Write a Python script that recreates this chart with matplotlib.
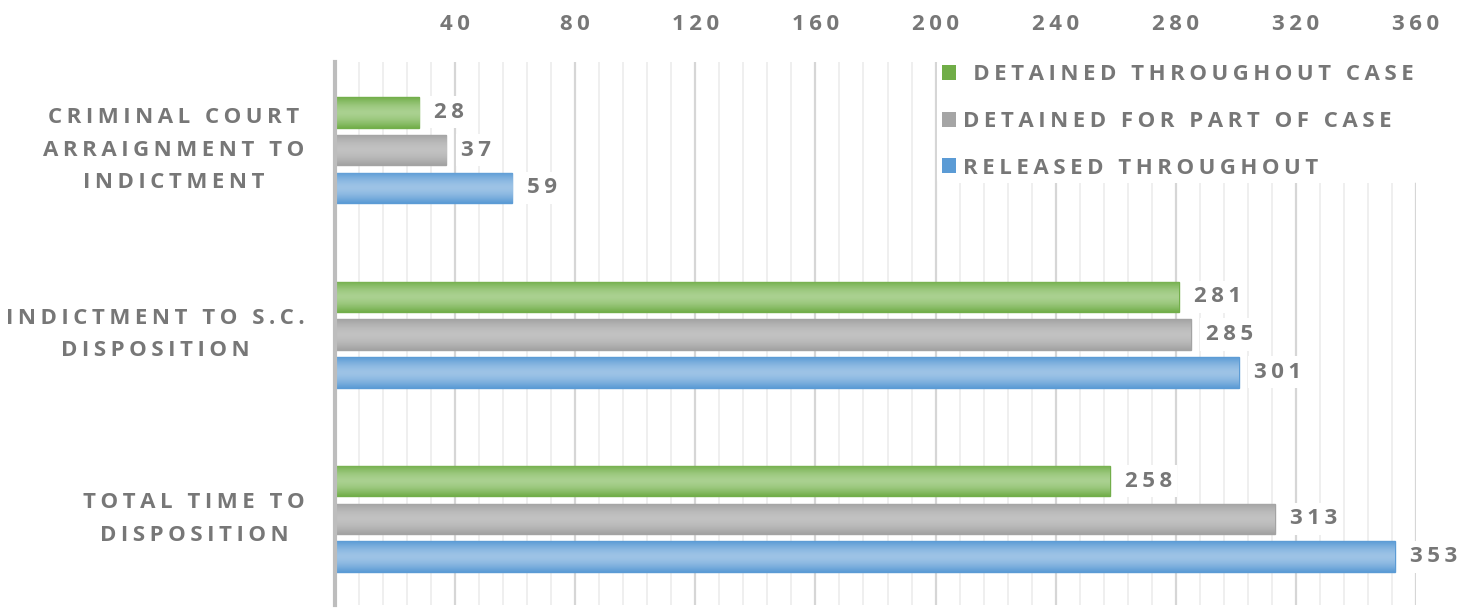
import numpy as np
import matplotlib.pyplot as plt
from matplotlib.colors import LinearSegmentedColormap
from matplotlib.patches import Patch

# median days per stage, by detention status
stages = ['CRIMINAL COURT\nARRAIGNMENT TO\nINDICTMENT',
          'INDICTMENT TO S.C.\nDISPOSITION',
          'TOTAL TIME TO\nDISPOSITION']
series_names = [' DETAINED THROUGHOUT CASE',
                'DETAINED FOR PART OF CASE',
                'RELEASED THROUGHOUT']
detained_all = [28, 281, 258]
detained_part = [37, 285, 313]
released = [59, 301, 353]

edge_cols = ['#72ae4a', '#a3a3a3', '#5b9bd5']
light_cols = ['#aad190', '#c2c2c2', '#9dc3e6']
text_col = '#777777'
fs = 16

plt.rcParams['font.family'] = ['Open Sans', 'DejaVu Sans']
plt.rcParams['font.weight'] = 'bold'


def spaced(s, sep='\u2009'):
    # widen letter spacing
    return '\n'.join(sep.join(line) for line in s.split('\n'))


fig = plt.figure(figsize=(14.77, 6.11), dpi=100)
ax = fig.add_axes([0.2268, 0.0098, 0.7319, 0.8887])

y = np.arange(len(stages))
slot = 0.205
bar_h = 0.165
all_series = [detained_all, detained_part, released]

bars_all = []
for i, vals in enumerate(all_series):
    bars = ax.barh(y + (i - 1) * slot, vals, height=bar_h,
                   color=light_cols[i], edgecolor=edge_cols[i],
                   linewidth=1.0, zorder=3)
    bars_all.append(bars)

# soft vertical shading inside each bar
t = np.linspace(0, 1, 64)
prof = 1 - np.abs(2 * t - 1) ** 1.6
for i, bars in enumerate(bars_all):
    cmap = LinearSegmentedColormap.from_list('g%d' % i, [edge_cols[i], light_cols[i]])
    for b in bars:
        x0, yb = b.get_x(), b.get_y()
        im = ax.imshow(prof[:, None], cmap=cmap, vmin=0, vmax=1,
                       extent=(x0, x0 + b.get_width(), yb, yb + b.get_height()),
                       aspect='auto', zorder=3.5, interpolation='bilinear')
        im.set_clip_path(b)
        ax.text(b.get_width() + 5.0, yb + b.get_height() / 2,
                spaced(str(int(b.get_width()))), ha='left', va='center',
                fontsize=fs, color=text_col, fontweight='bold', zorder=5,
                bbox=dict(facecolor='white', edgecolor='none', pad=4))

ax.set_xlim(0, 360)
ax.set_ylim(len(stages) - 1 + 0.467, -0.478)

ax.xaxis.tick_top()
ax.set_xticks(np.arange(40, 361, 40))
ax.set_xticklabels([spaced(str(v)) for v in range(40, 361, 40)])
ax.set_xticks(np.arange(8, 361, 8), minor=True)
ax.tick_params(axis='x', which='both', length=0, pad=19.5,
               labelsize=fs, labelcolor=text_col)
ax.grid(axis='x', which='major', color='#d6d6d6', linewidth=1.6, zorder=0)
ax.grid(axis='x', which='minor', color='#ececec', linewidth=1.2, zorder=0)

ax.set_yticks([])
for k, st in enumerate(stages):
    ax.text(-0.028, k, spaced(st), transform=ax.get_yaxis_transform(),
            ha='right', va='center', multialignment='center',
            fontsize=fs, color=text_col, fontweight='bold', linespacing=1.7)

for side in ['top', 'right', 'bottom']:
    ax.spines[side].set_visible(False)
ax.spines['left'].set_color('#bdbdbd')
ax.spines['left'].set_linewidth(3)
ax.spines['left'].set_zorder(6)

handles = [Patch(facecolor=c, edgecolor='none') for c in ['#70ad47', '#a5a5a5', '#5b9bd5']]
leg = ax.legend(handles, [spaced(n) for n in series_names],
                loc='upper left', bbox_to_anchor=(0.553, 1.012),
                frameon=True, framealpha=1, edgecolor='none', facecolor='white',
                fontsize=fs, handlelength=0.65, handleheight=0.65,
                handletextpad=0.3, labelspacing=1.15, borderpad=0.2,
                borderaxespad=0.2)
for txt in leg.get_texts():
    txt.set_color(text_col)
    txt.set_fontweight('bold')
leg.set_zorder(7)

fig.savefig('out.png', dpi=100, facecolor='white')
